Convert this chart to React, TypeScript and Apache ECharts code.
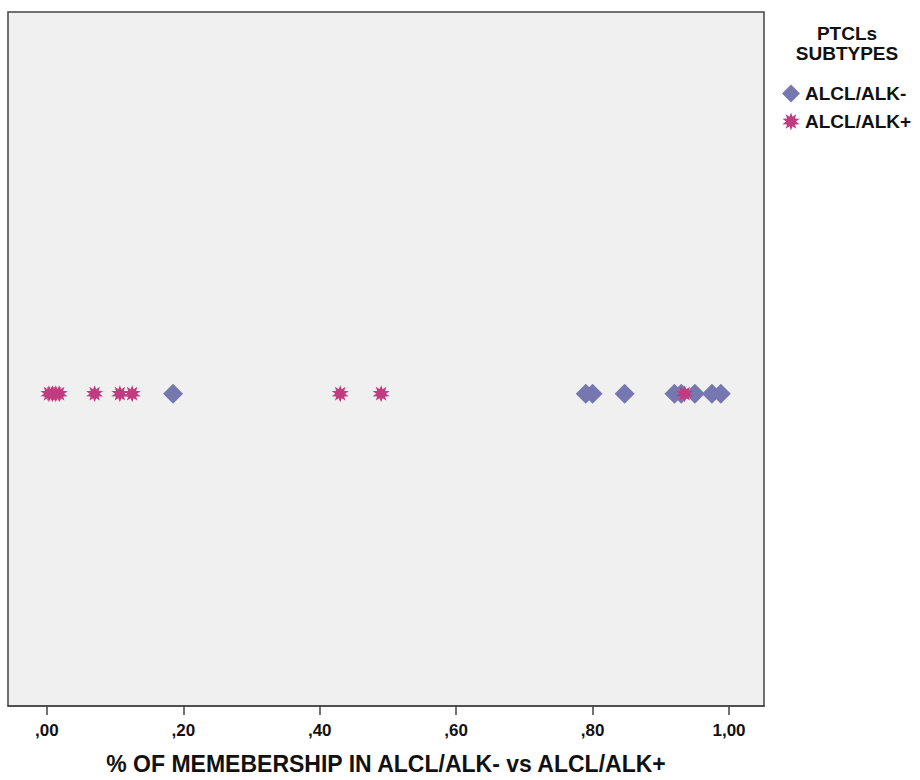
import React, { useEffect, useRef } from "react";
import * as echarts from "echarts";

const xTicks = [",00", ",20", ",40", ",60", ",80", "1,00"];
const alkNeg = [0.185, 0.79, 0.8, 0.847, 0.92, 0.93, 0.95, 0.975, 0.988];
const alkPos = [0.003, 0.008, 0.013, 0.018, 0.07, 0.107, 0.125, 0.43, 0.49, 0.935];
const seriesNames = ["ALCL/ALK-", "ALCL/ALK+"];
const legendTitle = "PTCLs\nSUBTYPES";
const axisTitle = "% OF MEMEBERSHIP IN ALCL/ALK- vs ALCL/ALK+";

function starPath(): string {
  const pts: string[] = [];
  const n = 10;
  for (let i = 0; i < n * 2; i++) {
    const r = i % 2 === 0 ? 1 : 0.55;
    const a = (Math.PI * i) / n - Math.PI / 2;
    const x = (r * Math.cos(a)).toFixed(3);
    const y = (r * Math.sin(a)).toFixed(3);
    pts.push((i === 0 ? "M" : "L") + x + " " + y);
  }
  return "path://" + pts.join(" ") + " Z";
}

export default function App() {
  const ref = useRef<HTMLDivElement>(null);
  useEffect(() => {
    if (!ref.current) return;
    const chart = echarts.init(ref.current, null, { renderer: "svg" });
    const star = starPath();
    const font = "'Liberation Sans', Arial, sans-serif";
    const tickVals = [0, 0.2, 0.4, 0.6, 0.8, 1.0];
    chart.setOption({
      animation: false,
      backgroundColor: "#ffffff",
      grid: {
        left: 8,
        right: 156,
        top: 12,
        bottom: 71,
        show: true,
        backgroundColor: "#f0f0f0",
        borderColor: "#444444",
        borderWidth: 1.5,
      },
      xAxis: {
        type: "value",
        min: -0.057,
        max: 1.0513,
        splitLine: { show: false },
        axisLine: { show: true, onZero: false, lineStyle: { color: "#444444", width: 1.5 } },
        axisTick: {
          show: true,
          length: 9,
          lineStyle: { color: "#444444", width: 1.5 },
          customValues: tickVals,
        },
        axisLabel: {
          customValues: tickVals,
          formatter: (v: number) => xTicks[Math.round(v * 5)] ?? "",
          color: "#111111",
          fontWeight: "bold",
          fontSize: 17,
          fontFamily: font,
          margin: 16,
        },
        name: axisTitle,
        nameLocation: "middle",
        nameGap: 46,
        nameTextStyle: {
          color: "#111111",
          fontWeight: "bold",
          fontSize: 23,
          fontFamily: font,
        },
      },
      yAxis: {
        type: "value",
        min: -0.45,
        max: 0.55,
        show: false,
        splitLine: { show: false },
      },
      legend: {
        orient: "vertical",
        left: 777,
        top: 79,
        itemGap: 9,
        itemWidth: 18,
        itemHeight: 18,
        data: [
          { name: seriesNames[0], icon: "diamond", itemStyle: { color: "#7777b0" } },
          { name: seriesNames[1], icon: star, itemStyle: { color: "#c03c80" } },
        ],
        textStyle: {
          color: "#111111",
          fontWeight: "bold",
          fontSize: 19,
          fontFamily: font,
        },
      },
      graphic: [
        {
          type: "text",
          x: 847,
          y: 23,
          style: {
            text: legendTitle,
            fill: "#111111",
            font: "bold 19px " + font,
            textAlign: "center",
            lineHeight: 20,
          },
        },
      ],
      series: [
        {
          name: seriesNames[0],
          type: "scatter",
          symbol: "diamond",
          symbolSize: 20,
          itemStyle: { color: "#7777b0", opacity: 1 },
          data: alkNeg.map((v) => [v, 0]),
          z: 2,
        },
        {
          name: seriesNames[1],
          type: "scatter",
          symbol: star,
          symbolSize: 17,
          itemStyle: { color: "#c03c80", opacity: 1 },
          data: alkPos.map((v) => [v, 0]),
          z: 3,
        },
      ],
    });
    return () => chart.dispose();
  }, []);
  return (
    <div
      ref={ref}
      style={{ position: "absolute", left: 0, top: 0, width: 920, height: 780 }}
    />
  );
}
